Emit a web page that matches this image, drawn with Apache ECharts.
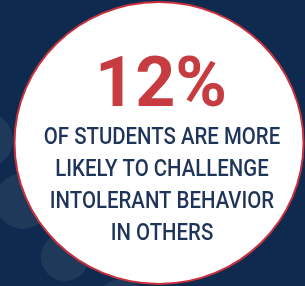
<!DOCTYPE html>
<html lang="en" style="height: 100%">
<head>
  <meta charset="utf-8">
</head>
<body style="height: 100%; margin: 0">
  <div id="container" style="height: 100%"></div>
  <script src="https://cdn.jsdelivr.net/npm/echarts@6/dist/echarts.min.js"></script>
  <script type="text/javascript">
    // headline value and caption
    var statValue = 12;
    var statUnit = '%';
    var captionLines = [
      'OF STUDENTS ARE MORE',
      'LIKELY TO CHALLENGE',
      'INTOLERANT BEHAVIOR',
      'IN OTHERS'
    ];

    // soft background dots: [x, y, r]
    var bokehDots = [
      [-15, 140, 28],
      [23, 201, 28],
      [65, 257, 24],
      [122, 305, 26]
    ];

    var dom = document.getElementById('container');
    var myChart = echarts.init(dom, null, { renderer: 'canvas' });

    var elements = [];
    bokehDots.forEach(function (d) {
      elements.push({
        type: 'circle',
        shape: { cx: d[0], cy: d[1], r: d[2] },
        style: { fill: 'rgba(255,255,255,0.07)' },
        silent: true
      });
    });

    elements.push({
      type: 'ellipse',
      shape: { cx: 159, cy: 143, rx: 144.5, ry: 141 },
      style: { fill: '#ffffff', stroke: '#c8313d', lineWidth: 2 }
    });

    elements.push({
      type: 'text',
      x: 161,
      y: 88,
      style: {
        text: statValue + statUnit,
        fill: '#c73c40',
        font: 'bold 70px Roboto',
        align: 'center',
        verticalAlign: 'middle'
      }
    });

    captionLines.forEach(function (line, i) {
      elements.push({
        type: 'text',
        x: 162,
        y: 138 + i * 32,
        scaleX: 0.85,
        style: {
          text: line,
          fill: '#1f3459',
          font: '500 24px Roboto',
          align: 'center',
          verticalAlign: 'middle'
        }
      });
    });

    var option = {
      backgroundColor: '#0f2a4f',
      animation: false,
      graphic: { elements: elements }
    };

    myChart.setOption(option);
    window.addEventListener('resize', myChart.resize);
  </script>
</body>
</html>
